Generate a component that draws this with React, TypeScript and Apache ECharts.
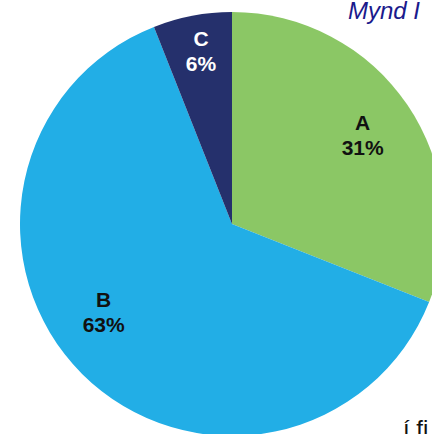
import React, { useEffect, useRef } from "react";
import * as echarts from "echarts";

const categories = ["A", "B", "C"];
const values = [31, 63, 6];
const colors = ["#8BC765", "#22AEE6", "#25306C"];
const labelColors = ["#111111", "#111111", "#FFFFFF"];
const labelRadius = [310, 306, 346];
const labelOffsets = [[0, 0], [-18, -22], [2, 0]];
const titleText = "Mynd I";
const footText = "í fi";

export default function App() {
  const ref = useRef<HTMLDivElement>(null);
  useEffect(() => {
    document.body.style.margin = "0";
    const chart = echarts.init(ref.current!, null, { renderer: "svg" });
    const total = values.reduce((a, b) => a + b, 0);
    const center = [232, 224];
    const mainData = categories.map((c, i) => ({
      name: c,
      value: values[i],
      itemStyle: { color: colors[i] },
    }));
    const labelSeries = categories.map((c, k) => ({
      type: "pie",
      center,
      radius: [0, labelRadius[k]],
      startAngle: 90,
      clockwise: true,
      silent: true,
      z: 5,
      itemStyle: { color: "transparent", borderWidth: 0 },
      emphasis: { disabled: true },
      labelLine: { show: false },
      data: categories.map((cc, i) => ({
        name: cc,
        value: values[i],
        label: {
          show: i === k,
          position: "inside",
          offset: labelOffsets[i],
          formatter: () => `${cc}\n${Math.round((values[i] / total) * 100)}%`,
          color: labelColors[i],
          fontFamily: "Liberation Sans, Arial, sans-serif",
          fontWeight: "bold",
          fontSize: 21,
          lineHeight: 25,
          align: "center",
        },
      })),
    }));
    chart.setOption({
      animation: false,
      graphic: [
        {
          type: "text",
          left: 348,
          top: -2,
          style: {
            text: titleText,
            fill: "#1A1A8C",
            font: "italic 24px 'Liberation Sans', Arial, sans-serif",
          },
          z: 10,
        },
        {
          type: "text",
          left: 403,
          top: 416,
          style: {
            text: footText,
            fill: "#111111",
            font: "24px 'Liberation Sans', Arial, sans-serif",
          },
          z: 10,
        },
      ],
      series: [
        {
          type: "pie",
          center,
          radius: [0, 212],
          startAngle: 90,
          clockwise: true,
          silent: true,
          label: { show: false },
          labelLine: { show: false },
          itemStyle: { borderWidth: 0 },
          emphasis: { disabled: true },
          data: mainData,
        },
        ...labelSeries,
      ],
    });
    return () => chart.dispose();
  }, []);
  return <div ref={ref} style={{ width: 432, height: 434 }} />;
}
